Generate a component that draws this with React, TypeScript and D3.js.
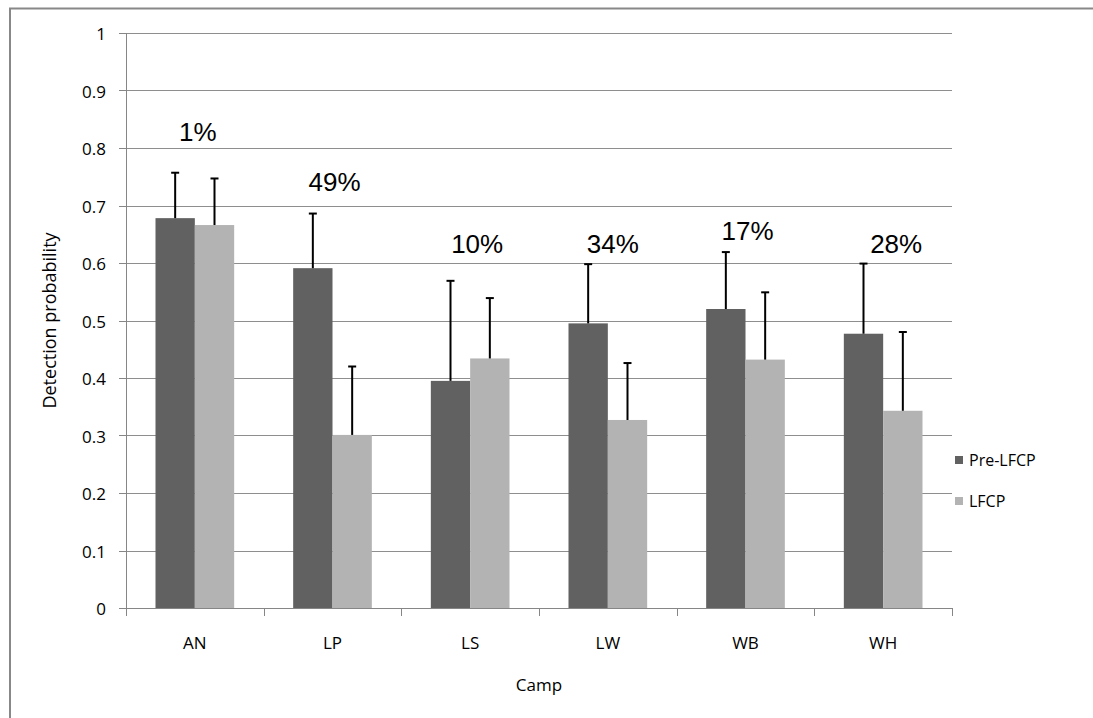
import React from "react";
import * as d3 from "d3";

// Camps and the two survey periods
const camps = ["AN", "LP", "LS", "LW", "WB", "WH"];
const seriesNames = ["Pre-LFCP", "LFCP"];

// Detection probability per camp
const preLFCP = [0.678, 0.591, 0.395, 0.495, 0.52, 0.477];
const lfcp = [0.666, 0.301, 0.434, 0.327, 0.432, 0.343];

// Upper error bar ends
const preLFCPUpper = [0.757, 0.686, 0.569, 0.598, 0.619, 0.599];
const lfcpUpper = [0.747, 0.42, 0.539, 0.426, 0.549, 0.48];

// Percent change annotation per camp and the level its baseline sits at
const changeLabels = ["1%", "49%", "10%", "34%", "17%", "28%"];
const changeLabelLevels = [0.812, 0.726, 0.617, 0.618, 0.64, 0.617];
const changeLabelNudge = [3, 2, 7, 5, 2, 13];

const yTicks = [0, 0.1, 0.2, 0.3, 0.4, 0.5, 0.6, 0.7, 0.8, 0.9, 1];

const W = 1093;
const H = 718;
const plot = { left: 126, right: 952, top: 33, bottom: 608 };
const colors = ["#616161", "#b3b3b3"];
const axisFont = "'Open Sans', 'Noto Sans', sans-serif";

export default function App() {
  const x0 = d3.scaleBand<string>().domain(camps).range([plot.left, plot.right]).paddingInner(0).paddingOuter(0);
  const x1 = d3
    .scaleBand<string>()
    .domain(seriesNames)
    .range([0, x0.bandwidth()])
    .paddingInner(0)
    .paddingOuter(0.75);
  const y = d3.scaleLinear().domain([0, 1]).range([plot.bottom, plot.top]);

  const values = [preLFCP, lfcp];
  const uppers = [preLFCPUpper, lfcpUpper];
  const fmt = d3.format("");

  return (
    <svg width={W} height={H} style={{ position: "absolute", left: 0, top: 0, background: "#fff" }}>
      {/* outer frame */}
      <rect x={10} y={8.5} width={W + 20} height={H + 20} fill="#fff" stroke="#888" strokeWidth={2} />

      {/* gridlines */}
      {yTicks.slice(1).map((t) => (
        <line key={"g" + t} x1={plot.left} x2={plot.right} y1={Math.round(y(t)) + 0.5} y2={Math.round(y(t)) + 0.5} stroke="#8e8e8e" strokeWidth={1} />
      ))}

      {/* bars */}
      {camps.map((c, i) =>
        seriesNames.map((s, k) => {
          const bx = (x0(c) ?? 0) + (x1(s) ?? 0);
          const v = values[k][i];
          return (
            <rect key={c + s} x={bx} y={y(v)} width={x1.bandwidth()} height={y(0) - y(v)} fill={colors[k]} />
          );
        })
      )}

      {/* error bars */}
      {camps.map((c, i) =>
        seriesNames.map((s, k) => {
          const cx = (x0(c) ?? 0) + (x1(s) ?? 0) + x1.bandwidth() / 2;
          const v = values[k][i];
          const u = uppers[k][i];
          return (
            <g key={"e" + c + s} stroke="#000" strokeWidth={2}>
              <line x1={cx} x2={cx} y1={y(v)} y2={y(u)} />
              <line x1={cx - 4} x2={cx + 4} y1={y(u)} y2={y(u)} />
            </g>
          );
        })
      )}

      {/* axes */}
      <line x1={plot.left + 0.5} x2={plot.left + 0.5} y1={plot.top} y2={plot.bottom} stroke="#868686" />
      <line x1={plot.left - 7} x2={plot.right} y1={plot.bottom + 0.5} y2={plot.bottom + 0.5} stroke="#868686" />
      {yTicks.map((t) => (
        <g key={"yt" + t}>
          <line x1={plot.left - 7} x2={plot.left} y1={Math.round(y(t)) + 0.5} y2={Math.round(y(t)) + 0.5} stroke="#868686" />
          <text x={plot.left - 20} y={y(t) + 7} textAnchor="end" fontFamily={axisFont} fontSize={17} fill="#000">
            {fmt(t)}
          </text>
        </g>
      ))}
      {[...camps.map((c) => x0(c) ?? 0), plot.right].map((px, i) => (
        <line key={"xt" + i} x1={Math.round(px) + 0.5} x2={Math.round(px) + 0.5} y1={plot.bottom} y2={plot.bottom + 8} stroke="#868686" />
      ))}
      {camps.map((c) => (
        <text key={"xl" + c} x={(x0(c) ?? 0) + x0.bandwidth() / 2} y={649} textAnchor="middle" fontFamily={axisFont} fontSize={17} fill="#000">
          {c}
        </text>
      ))}

      {/* axis titles */}
      <text x={(plot.left + plot.right) / 2} y={691} textAnchor="middle" fontFamily={axisFont} fontSize={17} fill="#000">
        Camp
      </text>
      <text
        transform={`translate(56, ${(plot.top + plot.bottom) / 2}) rotate(-90)`}
        textAnchor="middle"
        fontFamily={axisFont}
        fontSize={18}
        fill="#000"
      >
        Detection probability
      </text>

      {/* percent change annotations */}
      {camps.map((c, i) => (
        <text
          key={"pc" + c}
          x={(x0(c) ?? 0) + x0.bandwidth() / 2 + changeLabelNudge[i]}
          y={y(changeLabelLevels[i])}
          textAnchor="middle"
          fontFamily="'Liberation Sans', Arial, sans-serif"
          fontSize={26}
          fill="#000"
        >
          {changeLabels[i]}
        </text>
      ))}

      {/* legend */}
      {seriesNames.map((s, k) => (
        <g key={"lg" + s} transform={`translate(955, ${456 + k * 41})`}>
          <rect x={0} y={0} width={8} height={8} fill={colors[k]} />
          <text x={14} y={10} fontFamily={axisFont} fontSize={16} fill="#000">
            {s}
          </text>
        </g>
      ))}
    </svg>
  );
}
